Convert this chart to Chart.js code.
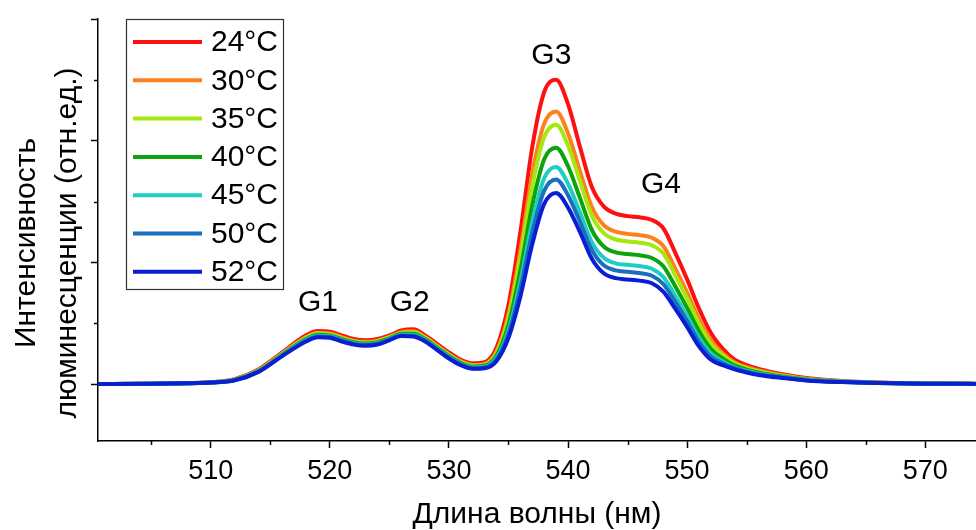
<!DOCTYPE html>
<html>
<head>
<meta charset="utf-8">
<script src="https://cdn.jsdelivr.net/npm/chart.js@4.4.1/dist/chart.umd.min.js"></script>
<style>
  body { margin: 0; background: #fff; }
  #wrap { width: 976px; height: 530px; }
</style>
</head>
<body>
<div id="wrap"><canvas id="spectra"></canvas></div>
<script>
// wavelength, nm
var wavelength = [500, 505, 508, 510, 512, 514, 516, 518, 519, 520, 521, 522, 523, 524, 525, 526, 527, 528, 529, 530,
  531, 532, 533, 534, 535, 536, 537, 538, 539, 540, 541, 542, 543, 544, 545, 546, 547, 548, 549, 550,
  551, 552, 553, 554, 555, 556, 558, 560, 563, 566, 570, 575];

var temps = ["24°C", "30°C", "35°C", "40°C", "45°C", "50°C", "52°C"];

// intensity (arb. units), one list per temperature
var i24 = [0, 0.003, 0.008, 0.015, 0.04, 0.12, 0.26, 0.40, 0.435, 0.43, 0.40, 0.37, 0.36, 0.37, 0.40, 0.44, 0.45, 0.40, 0.33, 0.26,
  0.20, 0.17, 0.18, 0.30, 0.65, 1.25, 1.95, 2.40, 2.50, 2.30, 1.95, 1.62, 1.46, 1.40, 1.38, 1.37, 1.35, 1.28, 1.08, 0.86,
  0.62, 0.42, 0.29, 0.20, 0.155, 0.125, 0.08, 0.05, 0.025, 0.012, 0.005, 0.002];
var i30 = [0, 0.003, 0.007, 0.014, 0.037, 0.114, 0.252, 0.386, 0.421, 0.416, 0.386, 0.357, 0.347, 0.357, 0.389, 0.427, 0.433, 0.386, 0.316, 0.246,
  0.187, 0.157, 0.166, 0.269, 0.574, 1.10, 1.73, 2.14, 2.24, 2.06, 1.75, 1.455, 1.306, 1.252, 1.234, 1.224, 1.204, 1.134, 0.951, 0.751,
  0.533, 0.358, 0.252, 0.178, 0.138, 0.111, 0.072, 0.044, 0.022, 0.011, 0.004, 0.002];
var i35 = [0, 0.003, 0.007, 0.014, 0.036, 0.112, 0.248, 0.38, 0.415, 0.41, 0.38, 0.352, 0.342, 0.352, 0.384, 0.422, 0.426, 0.38, 0.31, 0.24,
  0.182, 0.152, 0.16, 0.256, 0.542, 1.038, 1.63, 2.03, 2.13, 1.96, 1.67, 1.384, 1.24, 1.188, 1.172, 1.162, 1.142, 1.072, 0.896, 0.704,
  0.496, 0.332, 0.236, 0.168, 0.131, 0.105, 0.068, 0.042, 0.021, 0.010, 0.004, 0.002];
var i40 = [0, 0.002, 0.007, 0.013, 0.034, 0.108, 0.242, 0.37, 0.405, 0.40, 0.37, 0.343, 0.333, 0.343, 0.376, 0.413, 0.414, 0.37, 0.30, 0.23,
  0.173, 0.143, 0.15, 0.234, 0.488, 0.932, 1.47, 1.848, 1.942, 1.79, 1.53, 1.266, 1.13, 1.082, 1.068, 1.058, 1.038, 0.968, 0.804, 0.626,
  0.434, 0.288, 0.209, 0.152, 0.119, 0.095, 0.062, 0.038, 0.020, 0.010, 0.004, 0.001];
var i45 = [0, 0.002, 0.006, 0.013, 0.032, 0.105, 0.237, 0.362, 0.397, 0.392, 0.362, 0.335, 0.325, 0.335, 0.369, 0.405, 0.404, 0.362, 0.292, 0.222,
  0.165, 0.135, 0.142, 0.215, 0.442, 0.842, 1.334, 1.692, 1.784, 1.646, 1.411, 1.166, 1.037, 0.992, 0.98, 0.97, 0.95, 0.88, 0.726, 0.56,
  0.381, 0.251, 0.186, 0.138, 0.109, 0.087, 0.057, 0.035, 0.018, 0.009, 0.003, 0.001];
var i50 = [0, 0.002, 0.006, 0.012, 0.031, 0.102, 0.234, 0.356, 0.391, 0.386, 0.356, 0.33, 0.32, 0.33, 0.365, 0.40, 0.397, 0.356, 0.286, 0.216,
  0.16, 0.13, 0.136, 0.203, 0.412, 0.784, 1.246, 1.59, 1.682, 1.552, 1.334, 1.101, 0.976, 0.934, 0.922, 0.912, 0.892, 0.822, 0.675, 0.517,
  0.347, 0.226, 0.171, 0.13, 0.102, 0.081, 0.054, 0.032, 0.017, 0.008, 0.003, 0.001];
var i52 = [0, 0.002, 0.006, 0.012, 0.03, 0.10, 0.23, 0.35, 0.385, 0.38, 0.35, 0.325, 0.315, 0.325, 0.36, 0.395, 0.39, 0.35, 0.28, 0.21,
  0.155, 0.125, 0.13, 0.19, 0.38, 0.72, 1.15, 1.48, 1.57, 1.45, 1.25, 1.03, 0.91, 0.87, 0.86, 0.85, 0.83, 0.76, 0.62, 0.47,
  0.31, 0.20, 0.155, 0.12, 0.095, 0.075, 0.05, 0.03, 0.016, 0.008, 0.003, 0.001];

var xTicks = [510, 520, 530, 540, 550, 560, 570];
var yTicks = [0, 1, 2, 3];

// band labels
var bandNames = ["G1", "G2", "G3", "G4"];
var bandX = [519.0, 526.7, 538.6, 547.8];
var bandY = [0.67, 0.67, 2.70, 1.64];

var series = [i24, i30, i35, i40, i45, i50, i52];
var colors = ["#ff1010", "#ff7f1e", "#a4e80c", "#0ca30c", "#1ecdc3", "#1a6fbf", "#0a1ed2"];

var FONT = "'Liberation Sans', Arial, sans-serif";

var datasets = series.map(function (vals, i) {
  return {
    label: temps[i],
    data: vals.map(function (v, j) { return { x: wavelength[j], y: v }; }),
    borderColor: colors[i],
    backgroundColor: colors[i],
    borderWidth: 4,
    pointRadius: 0,
    cubicInterpolationMode: "monotone",
    order: series.length - 1 - i, // 52°C ends up on top
  };
});

var extras = {
  id: "extras",
  afterDraw: function (chart) {
    var ctx = chart.ctx;
    var xs = chart.scales.x, ys = chart.scales.y;
    var area = chart.chartArea;
    ctx.save();

    // minor ticks
    ctx.strokeStyle = "#000";
    ctx.lineWidth = 1.5;
    ctx.beginPath();
    for (var m = 505; m < xs.max; m += 10) {
      var px = Math.round(xs.getPixelForValue(m)) + 0.5;
      ctx.moveTo(px, area.bottom);
      ctx.lineTo(px, area.bottom + 4);
    }
    [0.5, 1.5, 2.5].forEach(function (v) {
      var py = Math.round(ys.getPixelForValue(v)) + 0.5;
      ctx.moveTo(area.left, py);
      ctx.lineTo(area.left - 4, py);
    });
    ctx.stroke();

    // band labels
    ctx.fillStyle = "#000";
    ctx.font = "30px " + FONT;
    ctx.textAlign = "center";
    ctx.textBaseline = "middle";
    bandNames.forEach(function (name, i) {
      ctx.fillText(name, xs.getPixelForValue(bandX[i]), ys.getPixelForValue(bandY[i]));
    });

    // legend box
    var bx = 126.5, by = 19.5, bw = 157, bh = 270;
    ctx.fillStyle = "#fff";
    ctx.fillRect(bx, by, bw, bh);
    ctx.strokeStyle = "#333";
    ctx.lineWidth = 1.2;
    ctx.strokeRect(bx, by, bw, bh);
    ctx.textAlign = "left";
    chart.data.datasets.forEach(function (ds, i) {
      var ly = 42 + i * 38.3;
      ctx.strokeStyle = ds.borderColor;
      ctx.lineWidth = 4;
      ctx.beginPath();
      ctx.moveTo(133, ly);
      ctx.lineTo(202, ly);
      ctx.stroke();
      ctx.fillStyle = "#000";
      ctx.fillText(ds.label, 211, ly + 1);
    });

    // y axis title
    ctx.translate(0, 243);
    ctx.rotate(-Math.PI / 2);
    ctx.textAlign = "center";
    ctx.fillText("Интенсивность", 0, 27);
    ctx.fillText("люминесценции (отн.ед.)", 0, 68);
    ctx.restore();
  },
};

new Chart(document.getElementById("spectra"), {
  type: "line",
  data: { datasets: datasets },
  options: {
    responsive: true,
    maintainAspectRatio: false,
    animation: false,
    layout: { padding: { top: 19, right: 0, left: 0, bottom: 0 } },
    plugins: { legend: { display: false }, tooltip: { enabled: false } },
    scales: {
      x: {
        type: "linear",
        min: 500.53,
        max: 574.26,
        afterBuildTicks: function (scale) {
          scale.ticks = xTicks.map(function (v) { return { value: v }; });
        },
        afterFit: function (scale) { scale.height = 89; },
        border: { color: "#000", width: 1.5 },
        grid: { drawOnChartArea: false, color: "#000", tickLength: 7, tickWidth: 1.5 },
        ticks: { color: "#000", padding: 7, font: { family: FONT, size: 27 }, maxRotation: 0 },
        title: {
          display: true,
          text: "Длина волны (нм)",
          color: "#000",
          font: { family: FONT, size: 30, lineHeight: 1.0 },
          padding: { top: 0, bottom: 0 },
        },
      },
      y: {
        min: -0.468,
        max: 3.0,
        afterBuildTicks: function (scale) {
          scale.ticks = yTicks.map(function (v) { return { value: v }; });
        },
        afterFit: function (scale) { scale.width = 98; },
        border: { color: "#000", width: 1.5 },
        grid: { drawOnChartArea: false, color: "#000", tickLength: 7, tickWidth: 1.5 },
        ticks: { display: false },
      },
    },
  },
  plugins: [extras],
});
</script>
</body>
</html>
